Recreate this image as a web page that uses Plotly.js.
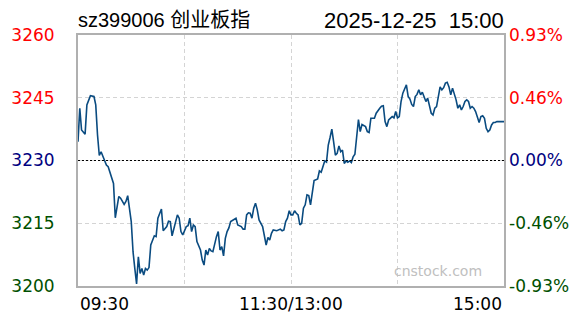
<!DOCTYPE html>
<html>
<head>
<meta charset="utf-8">
<script src="https://cdn.plot.ly/plotly-3.0.1.min.js"></script>
<style>html,body{margin:0;padding:0;background:#fff;}#chart{width:588px;height:324px;}</style>
</head>
<body>
<div id="chart"></div>
<script>
// ---- data (minute index since 09:30, lunch break removed) ----
const minutes = [
  0,1,2,4,5,7,9,10,11,12,
  13,15,16,17,19,20,21,22,23,24,
  26,27,28,30,31,32,33,34,35,36,
  37,38,39,40,41,43,44,45,47,48,
  50,51,52,53,55,56,57,58,59,61,
  62,63,64,65,66,67,69,70,71,72,
  73,74,75,76,78,79,80,81,82,83,
  84,85,86,88,89,90,92,93,94,95,
  96,97,98,99,100,101,102,104,105,106,
  107,108,109,110,112,114,115,116,117,118,
  119,120,121,122,123,124,125,126,127,128,
  129,130,131,132,133,135,136,137,138,139,
  140,141,142,143,144,145,146,147,148,149,
  150,151,152,153,154,155,156,157,158,159,
  160,162,163,164,165,167,168,170,171,172,
  173,174,175,177,178,179,180,181,182,183,
  184,185,186,187,188,189,190,191,192,193,
  194,195,196,197,198,199,200,201,202,203,
  204,205,206,207,208,209,210,211,212,213,
  214,215,216,217,218,219,220,221,222,223,
  224,225,226,227,228,229,230,231,232,233,
  234,235,236,238,240
];
const prices = [
  3234.5,3242.5,3237.3,3236.3,3243.3,3245.5,3245.3,3243.3,3236.1,3231.2,
  3232.1,3230.0,3228.9,3228.5,3226.1,3224.5,3216.3,3218.6,3221.4,3221.0,
  3219.5,3220.2,3221.6,3215.4,3208.2,3204.2,3200.5,3207.0,3203.0,3204.2,
  3202.6,3204.2,3203.8,3204.4,3209.8,3212.0,3211.8,3216.2,3218.4,3213.2,
  3214.2,3215.5,3215.4,3212.0,3215.4,3217.0,3216.2,3213.0,3212.2,3214.2,
  3214.4,3216.2,3213.0,3214.6,3214.2,3210.6,3208.6,3206.2,3205.0,3208.6,
  3207.4,3209.0,3208.4,3208.2,3211.8,3213.0,3208.6,3209.4,3207.2,3211.4,
  3213.0,3213.9,3215.4,3215.8,3216.2,3214.6,3214.2,3213.6,3213.6,3217.0,
  3217.5,3217.4,3216.2,3218.6,3219.8,3218.2,3215.8,3214.2,3211.6,3209.8,
  3211.6,3211.0,3212.6,3213.4,3213.2,3213.6,3213.2,3213.4,3215.4,3216.2,
  3218.0,3217.0,3217.0,3218.0,3217.4,3217.0,3214.6,3215.0,3218.6,3219.4,
  3221.8,3221.6,3219.4,3221.8,3225.2,3225.6,3227.5,3227.2,3228.5,3229.9,
  3229.6,3233.7,3235.5,3237.5,3234.5,3231.3,3231.7,3233.5,3232.1,3232.5,
  3229.3,3229.9,3229.6,3229.9,3229.5,3230.9,3231.5,3236.1,3239.8,3236.9,
  3238.6,3238.1,3236.9,3236.7,3240.1,3240.1,3241.3,3242.5,3243.0,3243.1,
  3239.3,3238.1,3239.7,3240.5,3240.2,3241.7,3240.2,3240.5,3244.1,3246.1,
  3247.1,3248.1,3245.3,3244.7,3243.4,3242.9,3245.3,3245.8,3246.9,3245.7,
  3246.3,3244.9,3244.1,3244.9,3242.9,3241.3,3240.9,3242.5,3242.9,3245.3,
  3247.6,3246.9,3247.4,3248.5,3248.7,3247.6,3245.7,3247.3,3246.1,3244.5,
  3242.5,3243.3,3242.1,3242.9,3244.1,3244.5,3244.1,3242.5,3242.9,3242.5,
  3241.7,3240.1,3239.1,3240.5,3240.7,3240.1,3237.7,3236.9,3237.3,3238.5,
  3239.1,3239.1,3239.3,3239.3,3239.3
];
const prevClose = 3230;
const priceTicks = [3260, 3245, 3230, 3215, 3200];
const priceTickText = ['3260', '3245', '3230', '3215', '3200'];
const pctTickText = ['0.93%', '0.46%', '0.00%', '-0.46%', '-0.93%'];
const tickColors = ['#ff0000', '#ff0000', '#000080', '#005000', '#005000'];
const timeTicks = [0, 120, 240];
const timeLabels = ['09:30', '11:30/13:00', '15:00'];
const timeGrid = [0, 60, 120, 180, 240];
const titleLeft = 'sz399006 创业板指';
const titleRight = '2025-12-25\u00a0\u00a015:00';
const watermark = 'cnstock.com';

// ---- derived ----
const yMin = 3200, yMax = 3260;
const pct = prices.map(p => (p - prevClose) / prevClose * 100);
const pctRange = [(yMin - prevClose) / prevClose * 100, (yMax - prevClose) / prevClose * 100];
const pctTicks = priceTicks.map(p => (p - prevClose) / prevClose * 100);
const colorize = (arr) => arr.map((t, i) => '<span style="color:' + tickColors[i] + '">' + t + '</span>');

const tickFont = {family: 'DejaVu Sans, Verdana, sans-serif', size: 17};

const traces = [
  {x: minutes, y: prices, type: 'scatter', mode: 'lines',
   line: {color: '#0a4b80', width: 1.6, shape: 'linear'}, hoverinfo: 'skip', showlegend: false},
  {x: minutes, y: pct, yaxis: 'y2', type: 'scatter', mode: 'lines',
   line: {color: 'rgba(0,0,0,0)', width: 0}, hoverinfo: 'skip', showlegend: false}
];

const xAligns = ['left', 'center', 'right'];
const annotations = timeTicks.map((t, i) => ({
  x: t, xref: 'x', y: -0.072, yref: 'paper', text: timeLabels[i],
  showarrow: false, xanchor: xAligns[i], yanchor: 'middle', font: Object.assign({color: '#000'}, tickFont)
}));
annotations.push({
  x: 0, xref: 'paper', y: 1.058, yref: 'paper', text: titleLeft, showarrow: false,
  xanchor: 'left', yanchor: 'middle', xshift: -2,
  font: {family: 'Liberation Sans, Arial, Noto Sans CJK SC, sans-serif', size: 20, color: '#000'}
});
annotations.push({
  x: 1, xref: 'paper', y: 1.058, yref: 'paper', text: titleRight, showarrow: false,
  xanchor: 'right', yanchor: 'middle', xshift: 2,
  font: {family: 'Liberation Sans, Arial, sans-serif', size: 22, color: '#000'}
});
annotations.push({
  x: 0.845, xref: 'paper', y: 0.06, yref: 'paper', text: watermark, showarrow: false,
  xanchor: 'center', yanchor: 'middle',
  font: {family: 'DejaVu Sans, Verdana, sans-serif', size: 14, color: '#c0c0c0'}
});

const layout = {
  width: 588, height: 324,
  margin: {l: 78, r: 84, t: 35, b: 38, pad: 0},
  paper_bgcolor: '#fff', plot_bgcolor: '#fff',
  showlegend: false,
  xaxis: {
    range: [0, 240], tickvals: timeGrid, ticktext: timeGrid.map(() => ''),
    showgrid: true, gridcolor: '#d4d4d4', griddash: '4px,3px', gridwidth: 1,
    showline: true, linecolor: '#b0b0b0', linewidth: 2, mirror: true,
    zeroline: false, ticks: '', fixedrange: true
  },
  yaxis: {
    range: [yMin, yMax], tickvals: priceTicks, ticktext: colorize(priceTickText),
    tickfont: tickFont, ticklabelstandoff: 18,
    showgrid: true, gridcolor: '#d4d4d4', griddash: '4px,3px', gridwidth: 1,
    showline: true, linecolor: '#b0b0b0', linewidth: 2, mirror: true,
    zeroline: false, ticks: '', fixedrange: true
  },
  yaxis2: {
    range: pctRange, tickvals: pctTicks, ticktext: colorize(pctTickText),
    tickfont: tickFont, ticklabelstandoff: 4,
    overlaying: 'y', side: 'right', showgrid: false, zeroline: false,
    showline: false, ticks: '', fixedrange: true
  },
  shapes: [{
    type: 'line', xref: 'paper', x0: 0, x1: 1, yref: 'y', y0: prevClose, y1: prevClose,
    line: {color: '#000', width: 1, dash: '2px,2px'}, layer: 'above'
  }],
  annotations: annotations
};

Plotly.newPlot('chart', traces, layout, {staticPlot: true, displayModeBar: false});
</script>
</body>
</html>
